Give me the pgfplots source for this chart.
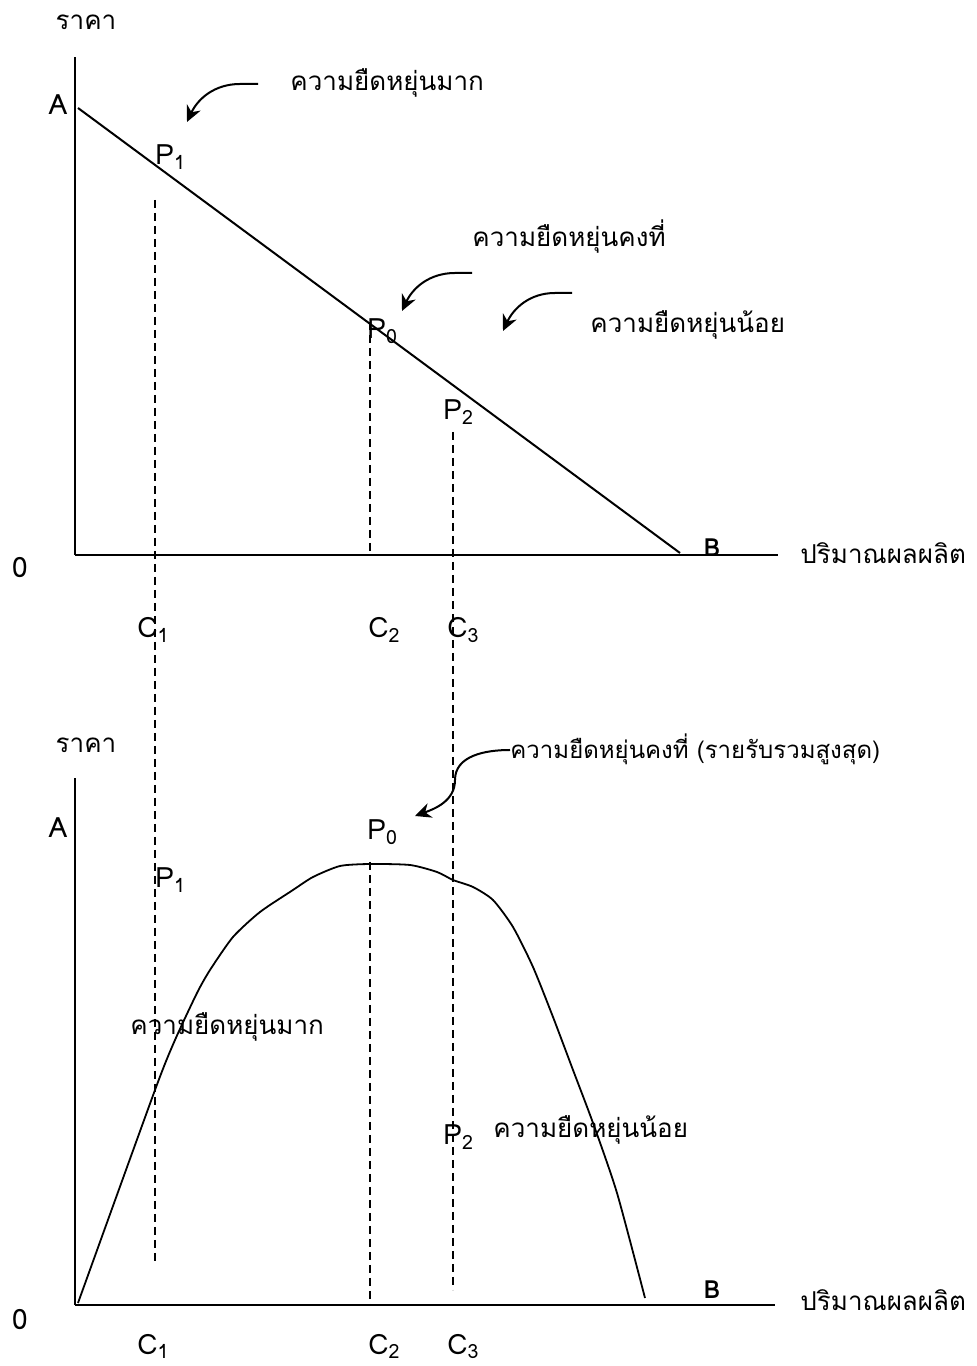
\documentclass[border=0pt]{standalone}
\usepackage{fontspec}
\setmainfont[Script=Thai]{Loma}
\usepackage{pgfplots}
\pgfplotsset{compat=1.18}
\usetikzlibrary{arrows.meta}

\pgfplotstableread{
x y
78 63
155 276
175 326
197 373
210 396
233 429
260 454
293 476
313 489
340 500
370 502
410 501
437 494
453 486
473 479
493 466
513 439
533 399
553 349
573 296
593 243
617 173
645 68
}\revenue

\tikzset{
  lab/.style={font=\fontsize{14}{16}\selectfont, inner sep=0pt},
  thai/.style={font=\fontsize{13}{15}\selectfont, inner sep=0pt},
  smalllab/.style={font=\fontsize{12}{14}\selectfont, inner sep=0pt},
  blab/.style={font=\fontsize{12.5}{14}\selectfont\bfseries, inner sep=0pt},
  mydash/.style={line width=0.75pt, dash pattern=on 4pt off 2.5pt},
  carrow/.style={line width=1pt, -{Stealth[length=8pt,width=7.5pt]}},
}

\begin{document}
\begin{tikzpicture}
% ---------- top panel: demand ----------
\begin{axis}[
  at={(37.5pt,405.5pt)}, anchor=south west,
  x=0.5pt, y=0.5pt,
  xmin=75, xmax=778, ymin=811, ymax=1309,
  axis lines=left,
  x axis line style={-, line width=1.4pt},
  y axis line style={-, line width=0.9pt},
  xtick=\empty, ytick=\empty,
  clip=false,
]
\addplot[black, line width=1pt] coordinates {(78,1258) (680,813)};
\addplot[black, mydash] coordinates {(155,1166) (155,104)};
\addplot[black, mydash] coordinates {(370,1044) (370,811)};
\addplot[black, mydash] coordinates {(453,934) (453,76)};

\node[thai] at (axis cs:86,1344) {ราคา};
\node[lab] at (axis cs:58,1261) {A};
\node[lab, anchor=base west] at (axis cs:155,1201) {P\textsubscript{1}};
\node[lab, anchor=base west] at (axis cs:367,1027) {P\textsubscript{0}};
\node[lab, anchor=base west] at (axis cs:443,946) {P\textsubscript{2}};
\node[lab] at (axis cs:20,798) {0};
\node[lab, anchor=base west] at (axis cs:137,728) {C\textsubscript{1}};
\node[lab, anchor=base west] at (axis cs:368,728) {C\textsubscript{2}};
\node[lab, anchor=base west] at (axis cs:447,728) {C\textsubscript{3}};
\node[blab] at (axis cs:712,818) {B};
\node[thai, anchor=west] at (axis cs:800,813) {ปริมาณผลผลิต};
\node[thai, anchor=west] at (axis cs:290,1283) {ความยืดหยุ่นมาก};
\node[thai, anchor=west] at (axis cs:472,1129) {ความยืดหยุ่นคงที่};
\node[thai, anchor=west] at (axis cs:590,1041) {ความยืดหยุ่นน้อย};

\draw[carrow] (axis cs:258,1282) -- (axis cs:240,1282) to[out=180,in=65] (axis cs:187,1244);
\draw[carrow] (axis cs:472,1093) -- (axis cs:455,1093) to[out=180,in=65] (axis cs:402,1055);
\draw[carrow] (axis cs:572,1073) -- (axis cs:555,1073) to[out=180,in=65] (axis cs:503,1035);
\end{axis}

% ---------- bottom panel: total revenue ----------
\begin{axis}[
  at={(37.5pt,30.5pt)}, anchor=south west,
  x=0.5pt, y=0.5pt,
  xmin=75, xmax=775, ymin=61, ymax=588,
  axis lines=left,
  x axis line style={-, line width=1.4pt},
  y axis line style={-, line width=0.9pt},
  xtick=\empty, ytick=\empty,
  clip=false,
]
\addplot[black, line width=0.9pt, smooth, tension=0.4] table[x=x,y=y] {\revenue};
\addplot[black, mydash] coordinates {(370,504) (370,61)};

\node[thai] at (axis cs:86,621) {ราคา};
\node[lab] at (axis cs:58,538) {A};
\node[lab, anchor=base west] at (axis cs:367,526) {P\textsubscript{0}};
\node[lab, anchor=base west] at (axis cs:155,478) {P\textsubscript{1}};
\node[lab, anchor=base west] at (axis cs:443,221) {P\textsubscript{2}};
\node[lab] at (axis cs:20,46) {0};
\node[lab, anchor=base west] at (axis cs:137,12) {C\textsubscript{1}};
\node[lab, anchor=base west] at (axis cs:368,12) {C\textsubscript{2}};
\node[lab, anchor=base west] at (axis cs:447,12) {C\textsubscript{3}};
\node[blab] at (axis cs:712,76) {B};
\node[thai, anchor=west] at (axis cs:800,66) {ปริมาณผลผลิต};
\node[smalllab, anchor=west] at (axis cs:510,617) {ความยืดหยุ่นคงที่ (รายรับรวมสูงสุด)};
\node[thai, anchor=west] at (axis cs:130,339) {ความยืดหยุ่นมาก};
\node[thai, anchor=west] at (axis cs:493,236) {ความยืดหยุ่นน้อย};

\draw[carrow] (axis cs:510,616) to[out=180,in=90] (axis cs:455,586)
  to[out=-90,in=20] (axis cs:415,550);
\end{axis}

\path (0,0) rectangle (488.5pt,683pt);
\end{tikzpicture}
\end{document}
